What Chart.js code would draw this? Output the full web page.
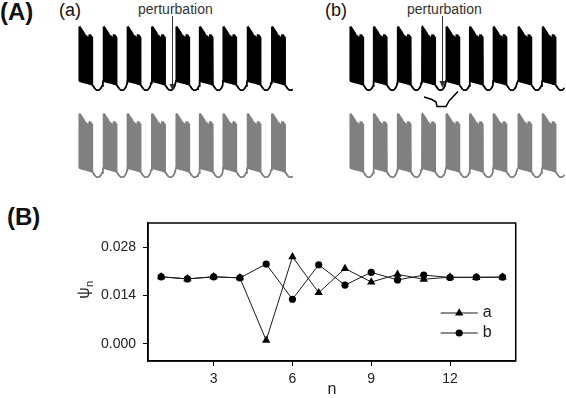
<!DOCTYPE html>
<html>
<head>
<meta charset="utf-8">
<script src="https://cdn.jsdelivr.net/npm/chart.js@4.4.1/dist/chart.umd.min.js"></script>
<style>
  html, body { margin: 0; padding: 0; background: #fff; }
  body { width: 566px; height: 398px; position: relative; overflow: hidden; font-family: Arial, "Liberation Sans", sans-serif; color: #111; }
  canvas { position: absolute; }
  .lbl { position: absolute; white-space: nowrap; line-height: 1; }
</style>
</head>
<body>
<div class="lbl" style="left:0;top:0;font-size:24px;font-weight:bold;">(A)</div>
<div class="lbl" style="left:59px;top:1px;font-size:18px;">(a)</div>
<div class="lbl" style="left:138px;top:2px;font-size:14px;color:#333;">perturbation</div>
<div class="lbl" style="left:325px;top:1px;font-size:18px;">(b)</div>
<div class="lbl" style="left:407px;top:2px;font-size:14px;color:#333;">perturbation</div>
<div class="lbl" style="left:7px;top:205px;font-size:24px;font-weight:bold;">(B)</div>

<canvas id="traceA1" width="225" height="110" style="left:75px;top:0;"></canvas>
<canvas id="traceA2" width="225" height="110" style="left:75px;top:87px;"></canvas>
<canvas id="traceB1" width="220" height="110" style="left:346px;top:0;"></canvas>
<canvas id="traceB2" width="220" height="110" style="left:346px;top:87px;"></canvas>
<canvas id="psiChart" width="566" height="203" style="left:0;top:195px;"></canvas>

<script>
// ---- panel A: one burst (time from burst onset, upper / lower envelope)
const burstDt    = [0, 0.2, 1, 3, 5, 6, 8, 9.2, 10.2, 11.5, 13, 13.3, 13.5, 14.5, 15.5, 16.5, 18, 19.5, 21, 22, 23, 23.8];
const burstTopV  = [-51, 2.7, 3, 0, -3, -5, -6.5, -11, -5, -5, -7, -7.5, -55, -56.5, -58, -59.3, -60.3, -60.3, -59.3, -58, -56, -53];
const burstBaseV = [-51, -51, -51.3, -52, -52.5, -52.8, -53.3, -53.6, -54, -54.3, -54.7, -55, -55, -56.5, -58, -59.3, -60.3, -60.3, -59.3, -58, -56, -53];

// burst onset times of each trace
const onsetsLeft  = [0, 24.3, 48.3, 72.7, 97, 120.5, 144, 168.3, 192.7];
const onsetsRight = [0, 23.5, 47.5, 71.8, 96.1, 119.6, 143.2, 168.1, 192.3];
const traceEnd = 214.5;

// perturbation arrows: time, start and tip voltage
const pertLeft  = [92.7, 14, -61];
const pertRight = [91.7, 14, -58];

// bracket under trace (b)
const bracketT = [74, 82, 86, 87, 96, 99, 108];
const bracketV = [-67, -69.5, -72, -76.5, -76.5, -71, -61.5];

// ---- panel B
const nValues = [1, 2, 3, 4, 5, 6, 7, 8, 9, 10, 11, 12, 13, 14];
const psiA = [0.0194, 0.0188, 0.0194, 0.0191, 0.0010, 0.0252, 0.0148, 0.0218, 0.0179, 0.0201, 0.0187, 0.0193, 0.0192, 0.0193];
const psiB = [0.0194, 0.0188, 0.0194, 0.0191, 0.0231, 0.0129, 0.0229, 0.0170, 0.0207, 0.0185, 0.0199, 0.0192, 0.0193, 0.0193];
const xTicks = [3, 6, 9, 12];
const yTicks = [0, 0.014, 0.028];
const seriesNames = ['a', 'b'];

const FONT = 'Arial, "Liberation Sans", sans-serif';

function buildEnvelope(onsets, vals) {
  const pts = [];
  onsets.forEach((t0, i) => {
    const limit = i < onsets.length - 1 ? onsets[i + 1] - t0 : traceEnd - t0;
    burstDt.forEach((dt, j) => {
      if (dt < limit) pts.push({ x: t0 + dt, y: vals[j] });
    });
  });
  return pts;
}

const arrowPlugin = {
  id: 'pertArrow',
  afterDatasetsDraw(chart, args, opts) {
    if (!opts.at) return;
    const { ctx, scales } = chart;
    const x = Math.round(scales.x.getPixelForValue(opts.at[0])) + 0.5;
    const y0 = scales.y.getPixelForValue(opts.at[1]);
    const y1 = scales.y.getPixelForValue(opts.at[2]);
    ctx.save();
    ctx.strokeStyle = '#333';
    ctx.fillStyle = '#333';
    ctx.lineWidth = 1;
    ctx.beginPath();
    ctx.moveTo(x, y0);
    ctx.lineTo(x, y1 - 5);
    ctx.stroke();
    ctx.beginPath();
    ctx.moveTo(x, y1);
    ctx.lineTo(x - 3, y1 - 7);
    ctx.lineTo(x + 3, y1 - 7);
    ctx.closePath();
    ctx.fill();
    ctx.restore();
  }
};

function traceChart(id, onsets, color, tMax, extra) {
  const datasets = [
    { data: buildEnvelope(onsets, burstTopV), borderColor: color, borderWidth: 1.5, pointRadius: 0, fill: false, tension: 0 },
    { data: buildEnvelope(onsets, burstBaseV), borderColor: color, borderWidth: 1.5, pointRadius: 0, fill: { target: 0 }, backgroundColor: color, tension: 0 }
  ];
  if (extra && extra.bracket) {
    datasets.push({
      data: bracketT.map((t, i) => ({ x: t, y: bracketV[i] })),
      borderColor: '#000', borderWidth: 1.5, pointRadius: 0, fill: false, tension: 0
    });
  }
  return new Chart(document.getElementById(id), {
    type: 'line',
    data: { datasets },
    options: {
      responsive: false,
      animation: false,
      events: [],
      layout: { padding: 0 },
      plugins: {
        legend: { display: false },
        tooltip: { enabled: false },
        pertArrow: { at: extra ? extra.arrow : null }
      },
      scales: {
        x: { type: 'linear', display: false, min: -4, max: tMax },
        y: { type: 'linear', display: false, min: -80, max: 30 }
      }
    },
    plugins: [arrowPlugin]
  });
}

traceChart('traceA1', onsetsLeft, '#000', 221, { arrow: pertLeft });
traceChart('traceA2', onsetsLeft, '#808080', 221, null);
traceChart('traceB1', onsetsRight, '#000', 216, { arrow: pertRight, bracket: true });
traceChart('traceB2', onsetsRight, '#808080', 216, null);

// ---- panel B plugins
const framePlugin = {
  id: 'frame',
  afterDraw(chart) {
    const { ctx, chartArea: a } = chart;
    ctx.save();
    ctx.strokeStyle = '#000';
    ctx.lineWidth = 1.5;
    ctx.strokeRect(a.left, a.top, a.right - a.left, a.bottom - a.top);
    ctx.restore();
  }
};

const legendPlugin = {
  id: 'lineLegend',
  afterDraw(chart) {
    const { ctx, chartArea: a } = chart;
    chart.data.datasets.forEach((ds, i) => {
      const y = a.top + 90 + i * 20;
      const x0 = a.right - 75, x1 = a.right - 38;
      ctx.save();
      ctx.strokeStyle = ds.borderColor;
      ctx.fillStyle = ds.pointBackgroundColor;
      ctx.lineWidth = 1;
      ctx.beginPath();
      ctx.moveTo(x0, y);
      ctx.lineTo(x1, y);
      ctx.stroke();
      Chart.helpers.drawPoint(ctx, {
        pointStyle: ds.pointStyle, radius: ds.pointRadius, rotation: 0, borderWidth: 0
      }, (x0 + x1) / 2, y);
      ctx.restore();
      ctx.save();
      ctx.fillStyle = '#222';
      ctx.font = '16px ' + FONT;
      ctx.textBaseline = 'middle';
      ctx.fillText(ds.label, x1 + 5, y);
      ctx.restore();
    });
  }
};

const psiTitlePlugin = {
  id: 'psiTitle',
  afterDraw(chart) {
    const { ctx, chartArea: a } = chart;
    ctx.save();
    ctx.translate(85, (a.top + a.bottom) / 2 - 2);
    ctx.rotate(-Math.PI / 2);
    ctx.fillStyle = '#222';
    ctx.textBaseline = 'middle';
    ctx.textAlign = 'center';
    ctx.font = '16px ' + FONT;
    ctx.fillText('ψ', -3, 0);
    ctx.font = '11px ' + FONT;
    ctx.fillText('n', 6, 5);
    ctx.restore();
  }
};

new Chart(document.getElementById('psiChart'), {
  type: 'line',
  data: {
    datasets: [
      {
        label: seriesNames[0],
        data: nValues.map((n, i) => ({ x: n, y: psiA[i] })),
        borderColor: '#1a1a1a', borderWidth: 1, tension: 0,
        pointStyle: 'triangle', pointRadius: 4.8,
        pointBackgroundColor: '#000', pointBorderColor: '#000', pointBorderWidth: 0
      },
      {
        label: seriesNames[1],
        data: nValues.map((n, i) => ({ x: n, y: psiB[i] })),
        borderColor: '#1a1a1a', borderWidth: 1, tension: 0,
        pointStyle: 'circle', pointRadius: 3.6,
        pointBackgroundColor: '#000', pointBorderColor: '#000', pointBorderWidth: 0
      }
    ]
  },
  options: {
    responsive: false,
    animation: false,
    events: [],
    layout: { padding: { left: 0, top: 28, right: 50.3, bottom: 0 } },
    plugins: { legend: { display: false }, tooltip: { enabled: false } },
    scales: {
      x: {
        type: 'linear', min: 0.5, max: 14.5,
        afterBuildTicks: s => { s.ticks = xTicks.map(v => ({ value: v })); },
        afterFit: s => { s.height = 37; },
        grid: { drawOnChartArea: false, drawTicks: true, tickLength: 5, color: '#000', lineWidth: 1 },
        border: { display: true, color: '#000', width: 1.5 },
        ticks: { font: { size: 14, family: FONT }, color: '#222', padding: 5, maxRotation: 0, autoSkip: false },
        title: { display: true, text: 'n', color: '#222', font: { size: 16, family: FONT, lineHeight: 1 }, padding: { top: 0, bottom: 0 } }
      },
      y: {
        type: 'linear', min: -0.005, max: 0.035,
        afterBuildTicks: s => { s.ticks = yTicks.map(v => ({ value: v })); },
        afterFit: s => { s.width = 148; },
        grid: { drawOnChartArea: false, drawTicks: true, tickLength: 5, color: '#000', lineWidth: 1 },
        border: { display: true, color: '#000', width: 1.5 },
        ticks: { font: { size: 14, family: FONT }, color: '#222', padding: 7, callback: v => v.toFixed(3) }
      }
    }
  },
  plugins: [framePlugin, legendPlugin, psiTitlePlugin]
});
</script>
</body>
</html>
